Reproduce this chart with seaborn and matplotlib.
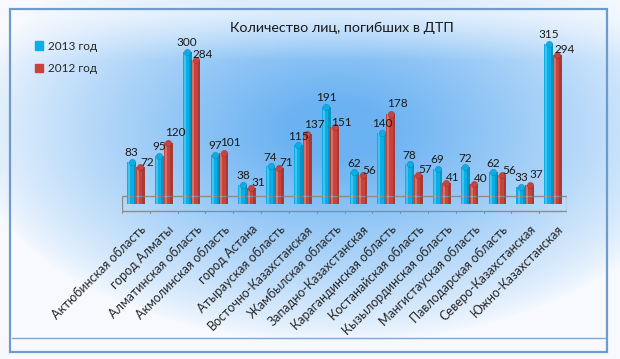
import numpy as np
import pandas as pd
import seaborn as sns
import matplotlib.pyplot as plt
import matplotlib.transforms as mtransforms
from matplotlib.patches import Rectangle, Patch

regions = [
    "Актюбинская область", "город Алматы", "Алматинская область",
    "Акмолинская область", "город Астана", "Атырауская область",
    "Восточно-Казахстанская", "Жамбылская область", "Западно-Казахстанская",
    "Карагандинская область", "Костанайская область", "Кызылординская область",
    "Мангистауская область", "Павлодарская область", "Северо-Казахстанская",
    "Южно-Казахстанская",
]
y2013 = [83, 95, 300, 97, 38, 74, 115, 191, 62, 140, 78, 69, 72, 62, 33, 315]
y2012 = [72, 120, 284, 101, 31, 71, 137, 151, 56, 178, 57, 41, 40, 56, 37, 294]
series = ["2013 год", "2012 год"]
colors = ["#0AAEE6", "#C8433C"]
title = "Количество лиц, погибших в ДТП"

df = pd.DataFrame({
    "region": regions * 2,
    "year": [series[0]] * len(regions) + [series[1]] * len(regions),
    "value": y2013 + y2012,
})

sns.set_theme(style="white")
plt.rcParams["font.family"] = ["Lato", "DejaVu Sans"]

fig = plt.figure(figsize=(6.2, 3.59), dpi=100)

# background gradient + frame
bg = fig.add_axes([0, 0, 1, 1])
yy, xx = np.mgrid[0:359, 0:620]
d = np.sqrt(((xx - 335) / 320.0) ** 2 + ((yy - 130) / 185.0) ** 2)
w = np.clip(1.15 - d, 0, 1) ** 0.8
top = np.clip((yy - 15) / 45.0, 0, 1)
w = w * (0.35 + 0.65 * top)
white = np.array([0.97, 0.98, 1.0])
blue = np.array([0.42, 0.70, 0.95])
img = white[None, None, :] * (1 - w[..., None]) + blue[None, None, :] * w[..., None]
bg.imshow(img, extent=[0, 620, 359, 0], aspect="auto")
bg.add_patch(Rectangle((10, 9), 597, 343, fill=False, edgecolor="#6F9BCB", lw=1.6))
bg.plot([12, 605], [338, 338], color="#7FA8D2", lw=1)
bg.set_xlim(0, 620)
bg.set_ylim(359, 0)
bg.axis("off")

ax = fig.add_axes([122 / 620, 140 / 359, 445 / 620, 180 / 359])
ax.patch.set_alpha(0)
sns.barplot(data=df, x="region", y="value", hue="year", palette=colors,
            width=0.62, gap=-0.05, legend=False, ax=ax, saturation=1,
            edgecolor="none")

# cylinder shading and caps
for i, cont in enumerate(ax.containers):
    for bar in cont:
        x0 = bar.get_x()
        bw = bar.get_width()
        h = bar.get_height()
        ax.add_patch(Rectangle((x0 + bw * 0.12, 0), bw * 0.22, h,
                               color="white", alpha=0.25, lw=0, zorder=3))
        ax.add_patch(Rectangle((x0 + bw * 0.72, 0), bw * 0.28, h,
                               color="black", alpha=0.15, lw=0, zorder=3))
        ax.scatter(x0 + bw / 2, h, s=22, marker="o", color=colors[i],
                   edgecolor="#00000030", lw=0.5, zorder=4)

# value labels
c13, c12 = ax.containers[0], ax.containers[1]
for b13, b12 in zip(c13, c12):
    h13, h12 = b13.get_height(), b12.get_height()
    ax.text(b13.get_x() + b13.get_width() / 2, h13 + 18, f"{int(h13)}",
            ha="center", va="center", fontsize=8.5, color="#1a1a1a", zorder=5)
    up = 20 if h12 > h13 else 10
    ax.text(b12.get_x() + b12.get_width() / 2 + 0.25, h12 + up, f"{int(h12)}",
            ha="center", va="center", fontsize=8.5, color="#1a1a1a", zorder=5)

n = len(regions)
ax.set_xlim(-0.5, n - 0.5)
ax.set_ylim(-30, 325)
# floor
ax.plot([-0.5, n - 0.5], [16, 16], color="#8c8c8c", lw=1, zorder=1)
ax.plot([-0.5, n - 0.5], [-14, -14], color="#8c8c8c", lw=1, zorder=5)
ax.plot([-0.5, -0.5], [-14, 16], color="#8c8c8c", lw=1, zorder=5)
ax.plot([n - 0.5, n - 0.5], [-14, 16], color="#8c8c8c", lw=1, zorder=5)
for k in range(n + 1):
    ax.plot([k - 0.5, k - 0.5], [-14, -19], color="#8c8c8c", lw=0.8)

ax.set_xlabel("")
ax.set_ylabel("")
ax.set_yticks([])
ax.set_xticks(range(n))
ax.set_xticklabels(regions, rotation=45, ha="right", rotation_mode="anchor",
                   fontsize=9, color="#262626")
ax.tick_params(axis="x", length=0, pad=3)
shift = mtransforms.ScaledTranslation(4 / 100, 0, fig.dpi_scale_trans)
for lbl in ax.get_xticklabels():
    lbl.set_transform(lbl.get_transform() + shift)
sns.despine(ax=ax, left=True, bottom=True)

fig.text(342 / 620, 1 - 28 / 359, title, ha="center", va="center",
         fontsize=10.3, color="#1a1a1a")

handles = [Patch(color=c, label=s) for c, s in zip(colors, series)]
fig.legend(handles=handles, loc="upper left", bbox_to_anchor=(24 / 620, 1 - 30 / 359),
           frameon=False, fontsize=8.5, handlelength=0.7, handleheight=0.7,
           handletextpad=0.4, labelspacing=1.0)

fig.savefig("out.png", dpi=100)
